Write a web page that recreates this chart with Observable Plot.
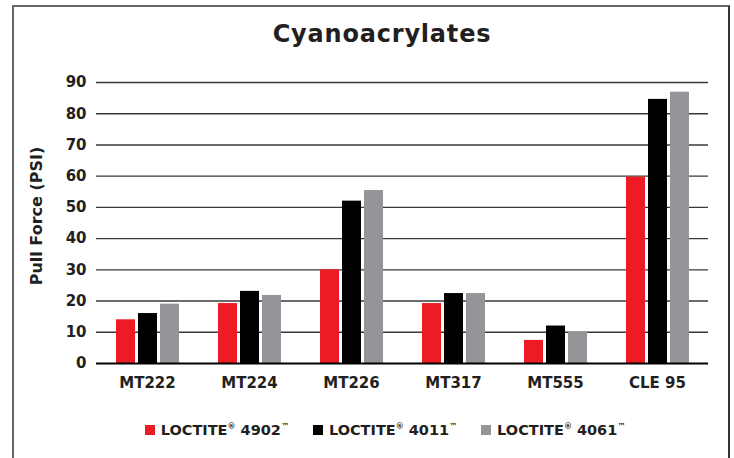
<!DOCTYPE html>
<html>
<head>
<meta charset="utf-8">
<script src="https://cdn.jsdelivr.net/npm/d3@7"></script>
<script src="https://cdn.jsdelivr.net/npm/@observablehq/plot@0.6"></script>
<style>
  html, body { margin: 0; padding: 0; background: #fff; }
  body { width: 734px; height: 458px; position: relative; overflow: hidden; }
  #frame { position: absolute; left: 12px; top: 5px; width: 714px; height: 470px;
           border-left: 2px solid #666; border-top: 2px solid #666; border-right: 2px solid #333; }
  #title { position: absolute; left: 15px; width: 734px; top: 20px; text-align: center; line-height: 28px;
           font-family: "DejaVu Sans", sans-serif; font-weight: bold; font-size: 24px; letter-spacing: 0.8px; color: #231f20; }
  #ytitle { position: absolute; left: 36px; top: 216px; transform: translate(-50%, -50%) rotate(-90deg);
            font-family: "DejaVu Sans", sans-serif; font-weight: bold; font-size: 16px; color: #231f20; white-space: nowrap; }
  #chart { position: absolute; left: 0; top: 60px; }
  #legend { position: absolute; left: 18px; width: 734px; top: 422px; display: flex; justify-content: center; gap: 24px;
            font-family: "DejaVu Sans", sans-serif; font-weight: bold; font-size: 14.5px; color: #231f20; }
  .item { display: flex; align-items: center; gap: 6px; }
  .sw { width: 10px; height: 10px; display: inline-block; }
  sup { font-size: 8px; vertical-align: 6px; line-height: 0; }
</style>
</head>
<body>
<div id="frame"></div>
<div id="title"></div>
<div id="ytitle"></div>
<div id="chart"></div>
<div id="legend"></div>
<script>
const title = "Cyanoacrylates";
const yLabel = "Pull Force (PSI)";
const categories = ["MT222", "MT224", "MT226", "MT317", "MT555", "CLE 95"];
const seriesNames = ["LOCTITE 4902", "LOCTITE 4011", "LOCTITE 4061"];
const seriesColors = ["#ed1c24", "#000000", "#939598"];
const v4902 = [14, 19.2, 30, 19.2, 7.4, 59.7];
const v4011 = [16, 23.1, 52, 22.4, 12, 84.6];
const v4061 = [19, 21.8, 55.4, 22.4, 10, 86.9];
const yTicks = [0, 10, 20, 30, 40, 50, 60, 70, 80, 90];

const seriesValues = [v4902, v4011, v4061];
const data = [];
categories.forEach((c, i) => seriesNames.forEach((s, j) => data.push({category: c, series: s, value: seriesValues[j][i]})));

document.getElementById("title").textContent = title;
document.getElementById("ytitle").textContent = yLabel;

const chart = Plot.plot({
  width: 734,
  height: 340,
  marginLeft: 95,
  marginRight: 26,
  marginTop: 22,
  marginBottom: 37,
  style: {fontFamily: "'DejaVu Sans', sans-serif", fontWeight: "bold", fontSize: "15px", color: "#231f20", background: "transparent"},
  fx: {domain: categories, padding: 0, axis: null},
  x: {domain: seriesNames, paddingInner: 0.155, paddingOuter: 0.85, axis: null},
  y: {domain: [0, 90], axis: null},
  color: {domain: seriesNames, range: seriesColors},
  marks: [
    Plot.ruleY(yTicks.filter(d => d > 0), {stroke: "#3a3a3a", strokeWidth: 1.4}),
    Plot.barY(data, {fx: "category", x: "series", y: "value", fill: "series"}),
    Plot.ruleY([0], {stroke: "#000", strokeWidth: 2}),
    Plot.axisY({ticks: yTicks, tickSize: 0, tickPadding: 10, label: null, fontSize: 15, fontWeight: "bold"}),
    Plot.axisFx({anchor: "bottom", tickSize: 0, tickPadding: 14, label: null, fontSize: 15, fontWeight: "bold"})
  ]
});
document.getElementById("chart").appendChild(chart);

const legend = document.getElementById("legend");
seriesNames.forEach((s, j) => {
  const item = document.createElement("span");
  item.className = "item";
  const sw = document.createElement("span");
  sw.className = "sw";
  sw.style.background = seriesColors[j];
  const lab = document.createElement("span");
  const parts = s.split(" ");
  lab.innerHTML = parts[0] + "<sup>®</sup> " + parts[1] + "<sup>™</sup>";
  item.appendChild(sw);
  item.appendChild(lab);
  legend.appendChild(item);
});
</script>
</body>
</html>
